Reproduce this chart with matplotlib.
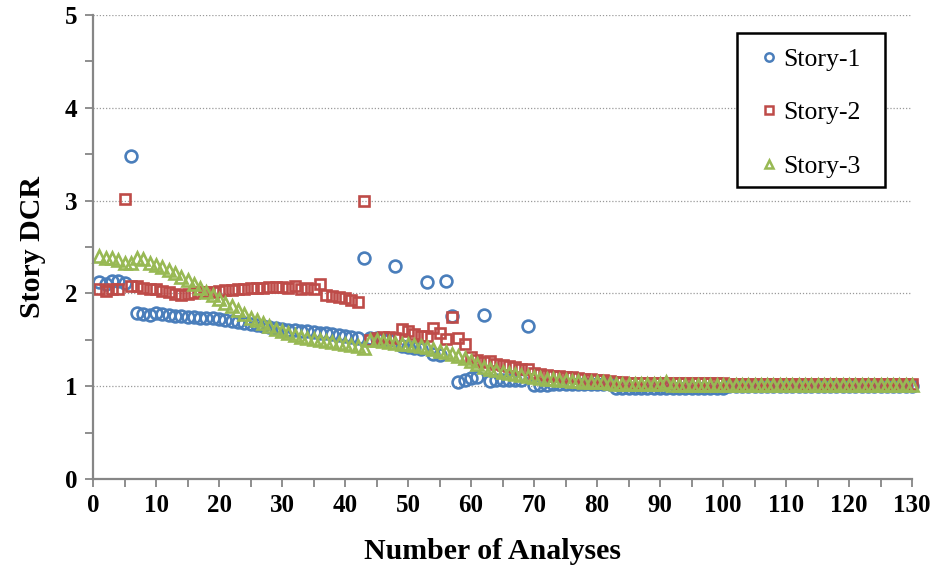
import matplotlib
matplotlib.use("Agg")
import matplotlib.pyplot as plt
import numpy as np
from matplotlib.ticker import MultipleLocator
from matplotlib.patches import Rectangle

analyses = list(range(1, 131))

story1 = [2.12, 2.10, 2.13, 2.13, 2.11, 3.48, 1.79, 1.78, 1.77, 1.79,
          1.78, 1.77, 1.76, 1.76, 1.75, 1.75, 1.74, 1.73, 1.73, 1.72,
          1.71, 1.70, 1.69, 1.68, 1.67, 1.66, 1.65, 1.64, 1.63, 1.62,
          1.61, 1.61, 1.60, 1.59, 1.58, 1.57, 1.57, 1.56, 1.55, 1.54,
          1.53, 1.52, 2.38, 1.52, 1.52, 1.51, 1.50, 2.30, 1.43, 1.42,
          1.41, 1.40, 2.12, 1.35, 1.34, 2.13, 1.76, 1.05, 1.07, 1.09,
          1.10, 1.77, 1.06, 1.07, 1.07, 1.07, 1.07, 1.07, 1.65, 1.01,
          1.01, 1.01, 1.02, 1.02, 1.02, 1.02, 1.02, 1.02, 1.02, 1.02,
          1.02, 1.02, 0.98, 0.98, 0.98, 0.98, 0.98, 0.98, 0.98, 0.98,
          0.98, 0.98, 0.98, 0.98, 0.98, 0.98, 0.98, 0.98, 0.98, 0.98,
          1.00, 1.00, 1.00, 1.00, 1.00, 1.00, 1.00, 1.00, 1.00, 1.00,
          1.00, 1.00, 1.00, 1.00, 1.00, 1.00, 1.00, 1.00, 1.00, 1.00,
          1.00, 1.00, 1.00, 1.00, 1.00, 1.00, 1.00, 1.00, 1.00, 1.00]

story2 = [2.05, 2.03, 2.05, 2.05, 3.02, 2.08, 2.08, 2.06, 2.05, 2.05,
          2.03, 2.01, 1.99, 1.98, 1.99, 2.00, 2.01, 2.02, 2.02, 2.03,
          2.04, 2.04, 2.05, 2.05, 2.06, 2.06, 2.06, 2.07, 2.07, 2.07,
          2.06, 2.08, 2.05, 2.06, 2.05, 2.10, 1.98, 1.97, 1.96, 1.95,
          1.93, 1.91, 3.00, 1.50, 1.52, 1.53, 1.53, 1.52, 1.62, 1.59,
          1.56, 1.54, 1.54, 1.63, 1.57, 1.51, 1.75, 1.52, 1.46, 1.31,
          1.28, 1.26, 1.27, 1.24, 1.23, 1.22, 1.21, 1.19, 1.18, 1.14,
          1.13, 1.12, 1.11, 1.11, 1.10, 1.10, 1.09, 1.08, 1.08, 1.07,
          1.07, 1.06, 1.05, 1.04, 1.03, 1.03, 1.03, 1.03, 1.03, 1.03,
          1.03, 1.03, 1.03, 1.03, 1.03, 1.03, 1.03, 1.03, 1.03, 1.03,
          1.02, 1.02, 1.02, 1.02, 1.02, 1.02, 1.02, 1.02, 1.02, 1.02,
          1.02, 1.02, 1.02, 1.02, 1.02, 1.02, 1.02, 1.02, 1.02, 1.02,
          1.02, 1.02, 1.02, 1.02, 1.02, 1.02, 1.02, 1.02, 1.02, 1.02]

story3 = [2.40, 2.38, 2.38, 2.36, 2.33, 2.33, 2.38, 2.37, 2.33, 2.31,
          2.28, 2.25, 2.22, 2.18, 2.14, 2.10, 2.06, 2.02, 1.98, 1.94,
          1.90, 1.86, 1.82, 1.78, 1.74, 1.71, 1.68, 1.65, 1.62, 1.59,
          1.57, 1.55, 1.53, 1.52, 1.51, 1.50, 1.49, 1.48, 1.47, 1.45,
          1.44, 1.43, 1.41, 1.50, 1.50, 1.49, 1.48, 1.47, 1.46, 1.45,
          1.44, 1.43, 1.42, 1.40, 1.38, 1.37, 1.35, 1.33, 1.30, 1.27,
          1.24, 1.21, 1.19, 1.17, 1.15, 1.14, 1.13, 1.12, 1.11, 1.10,
          1.09, 1.08, 1.08, 1.07, 1.07, 1.06, 1.06, 1.05, 1.05, 1.04,
          1.04, 1.03, 1.02, 1.02, 1.02, 1.02, 1.02, 1.02, 1.02, 1.02,
          1.04, 1.01, 1.01, 1.01, 1.01, 1.01, 1.01, 1.01, 1.01, 1.01,
          1.01, 1.01, 1.01, 1.01, 1.01, 1.01, 1.01, 1.01, 1.01, 1.01,
          1.01, 1.01, 1.01, 1.01, 1.01, 1.01, 1.01, 1.01, 1.01, 1.01,
          1.01, 1.01, 1.01, 1.01, 1.01, 1.01, 1.01, 1.01, 1.01, 1.01]

series_names = ["Story-1", "Story-2", "Story-3"]
colors = ["#4A7EBB", "#BE4B48", "#98B954"]
markers = ["o", "s", "^"]

plt.rcParams['font.family'] = ['Liberation Serif', 'DejaVu Serif']

fig = plt.figure(figsize=(9.35, 5.68), dpi=100)
ax = fig.add_axes([93/935, 1 - 479/568, (912 - 93)/935, (479 - 15)/568])

for vals, name, c, m in zip([story1, story2, story3], series_names, colors, markers):
    ms = 8.5 if m == "o" else (7.0 if m == "s" else 8.5)
    ax.plot(analyses, vals, linestyle="none", marker=m, markersize=ms,
            markerfacecolor="none", markeredgecolor=c, markeredgewidth=1.9,
            label=name, clip_on=False)

ax.set_xlim(0, 130)
ax.set_ylim(0, 5)
ax.xaxis.set_major_locator(MultipleLocator(10))
ax.xaxis.set_minor_locator(MultipleLocator(5))
ax.yaxis.set_major_locator(MultipleLocator(1))
ax.yaxis.set_minor_locator(MultipleLocator(0.5))

ax.yaxis.grid(True, which="major", linestyle=(0, (1, 1.5)), color="#9a9a9a", linewidth=0.9)
ax.set_axisbelow(True)

for s in ["top", "right"]:
    ax.spines[s].set_visible(False)
for s in ["left", "bottom"]:
    ax.spines[s].set_color("#868686")
    ax.spines[s].set_linewidth(1.6)

ax.tick_params(axis="both", which="major", direction="out", length=6, width=1.3,
               color="#868686", labelsize=18, pad=5)
ax.tick_params(axis="both", which="minor", direction="out", length=6, width=1.3,
               color="#868686")
for lab in ax.get_xticklabels() + ax.get_yticklabels():
    lab.set_fontweight("bold")

ax.set_xlabel("Number of Analyses", fontsize=21.5, fontweight="bold", labelpad=15)
ax.xaxis.label.set_x(0.488)
ax.set_ylabel("Story DCR", fontsize=21.5, fontweight="bold", labelpad=14)

# legend frame
frame = Rectangle((0.7863, 0.6293), 0.967 - 0.7863, 0.9612 - 0.6293,
                  transform=ax.transAxes, facecolor="white", edgecolor="black",
                  linewidth=1.8, zorder=4, clip_on=False)
ax.add_patch(frame)

leg = ax.legend(loc="upper left", bbox_to_anchor=(0.8095, 0.929), fontsize=18.5,
                frameon=False, handletextpad=0.05,
                labelspacing=1.18, borderpad=0.0, handlelength=1.0, borderaxespad=0)
leg.set_zorder(5)
for h in leg.legend_handles:
    h.set_markersize(6)
    h.set_markeredgewidth(1.8)

fig.savefig("out.png", dpi=100)
